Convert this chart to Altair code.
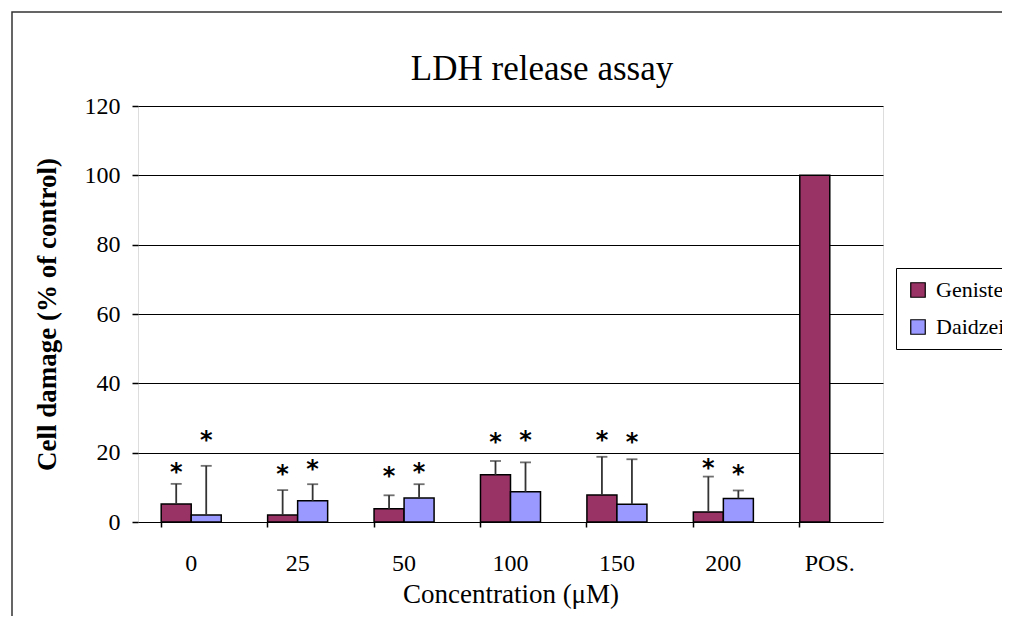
import altair as alt
import pandas as pd

categories = ["0", "25", "50", "100", "150", "200", "POS."]
series = ["Genistein", "Daidzein"]

genistein = [5.2, 2.0, 3.8, 13.6, 7.8, 2.9, 100.0]
genistein_err = [5.8, 7.2, 3.9, 4.0, 11.0, 10.2, None]
genistein_star = [15.6, 15.0, 14.5, 24.3, 24.8, 16.6, None]

daidzein = [2.0, 6.1, 6.9, 8.7, 5.1, 6.8, None]
daidzein_err = [14.2, 4.8, 4.0, 8.5, 13.0, 2.3, None]
daidzein_star = [24.8, 16.4, 15.7, 24.8, 24.1, 15.0, None]

chart_title = "LDH release assay"

rows = []
for i, c in enumerate(categories):
    for s, vals, errs, stars in [
        ("Genistein", genistein, genistein_err, genistein_star),
        ("Daidzein", daidzein, daidzein_err, daidzein_star),
    ]:
        if vals[i] is None:
            continue
        rows.append({
            "cat": c, "series": s, "value": vals[i],
            "err": errs[i], "star": stars[i],
        })
df = pd.DataFrame(rows)
df["top"] = df["value"] + df["err"]

FONT = "Liberation Serif"

x_enc = alt.X(
    "cat:N", sort=categories,
    scale=alt.Scale(paddingInner=0.436, paddingOuter=0.218),
    axis=alt.Axis(
        title="Concentration (\u03bcM)", labelAngle=0, domain=False,
        bandPosition=0, tickSize=5, tickColor="black", tickWidth=1.5,
        labelPadding=36, labelBaseline="middle",
        labelFontSize=24, labelFont=FONT, labelColor="black",
        titleFontSize=27, titleFont=FONT, titleFontWeight="normal",
        titleColor="black", titleY=72, titleBaseline="middle",
    ),
)
xoff = alt.XOffset("series:N", sort=series, scale=alt.Scale(domain=series))
y_scale = alt.Scale(domain=[0, 120])

base = alt.Chart(df)

bars = base.mark_bar(stroke="black", strokeWidth=1.5).encode(
    x=x_enc,
    xOffset=xoff,
    y=alt.Y(
        "value:Q", scale=y_scale,
        axis=alt.Axis(
            title="Cell damage (% of control)", values=[0, 20, 40, 60, 80, 100, 120],
            domain=False, tickSize=6, tickColor="black", tickWidth=1.5,
            labelPadding=12, labelFontSize=24, labelFont=FONT, labelColor="black",
            grid=True, gridColor="black", gridWidth=1.2, gridOpacity=1,
            titleFontSize=27, titleFont=FONT, titleFontWeight="bold",
            titleColor="black", titleX=-91, titleY=208, titleBaseline="middle",
            titleAngle=-90,
        ),
    ),
    color=alt.Color(
        "series:N", sort=series,
        scale=alt.Scale(domain=series, range=["#993366", "#9999FF"]),
        legend=alt.Legend(
            title=None, orient="none", legendX=758, legendY=162,
            symbolType="square", symbolSize=210, symbolStrokeColor="black",
            symbolStrokeWidth=1.2, labelFont=FONT, labelFontSize=22,
            labelColor="black", rowPadding=15, padding=11, labelOffset=7,
            strokeColor="black", fillColor="white", symbolOpacity=1,
        ),
    ),
)

err_df = df.dropna(subset=["err"])
rules = alt.Chart(err_df).mark_rule(color="#333333", strokeWidth=1.8).encode(
    x=alt.X("cat:N", sort=categories), xOffset=xoff,
    y=alt.Y("value:Q", scale=y_scale), y2="top:Q",
)
caps = alt.Chart(err_df).mark_tick(color="#333333", thickness=1.8, size=11).encode(
    x=alt.X("cat:N", sort=categories), xOffset=xoff,
    y=alt.Y("top:Q", scale=y_scale),
)
stars = alt.Chart(df.dropna(subset=["star"])).mark_text(
    text="*", font="DejaVu Sans", fontSize=24, fontWeight="bold",
    baseline="alphabetic", dy=12, color="black",
).encode(
    x=alt.X("cat:N", sort=categories), xOffset=xoff,
    y=alt.Y("star:Q", scale=y_scale),
)

frame = alt.Chart(alt.Data(values=[{"f": 1}])).mark_rect(
    filled=False, stroke="#333333", strokeWidth=1.5,
).encode(
    x=alt.value(-126), x2=alt.value(1000), y=alt.value(-94), y2=alt.value(700),
)

title_mark = alt.Chart(alt.Data(values=[{"t": chart_title}])).mark_text(
    font=FONT, fontSize=35, color="black", align="center", baseline="alphabetic",
).encode(
    text="t:N", x=alt.value(404), y=alt.value(-26),
)

chart = alt.layer(frame, bars, rules, caps, stars, title_mark).properties(
    width=745, height=416,
    autosize=alt.AutoSizeParams(type="none"),
    padding={"left": 130, "top": 98, "right": 119, "bottom": 94},
).configure_view(stroke="black", strokeWidth=1.5).configure(background="white")

chart.save("out.html", embed_options={"renderer": "svg", "actions": False})
